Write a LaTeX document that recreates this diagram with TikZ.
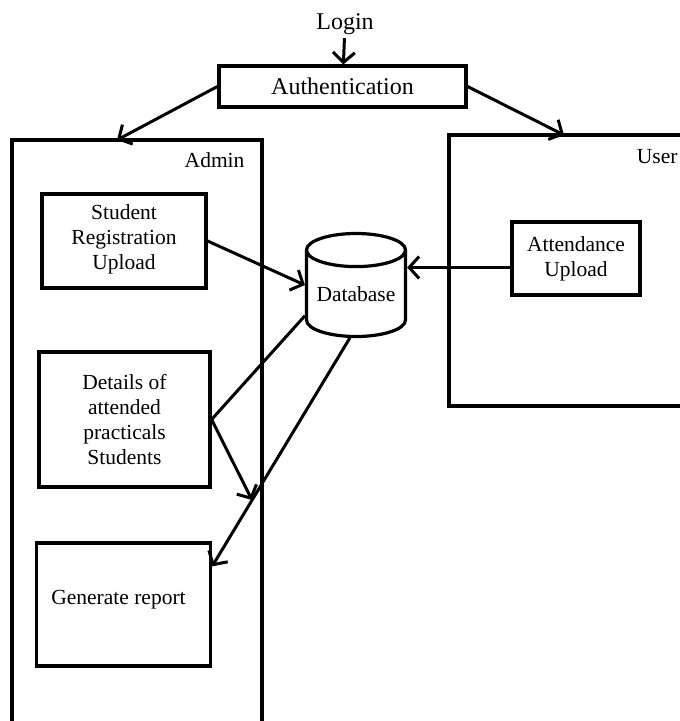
\documentclass[tikz,border=0pt]{standalone}
\usepackage{fontspec}
\setmainfont{Liberation Serif}
\usetikzlibrary{arrows.meta,shapes.geometric}
\tikzset{
    every node/.style={align=center,},
    txt/.style={font=\fontsize{21.5}{25}\selectfont,},
    bigtxt/.style={font=\fontsize{24}{28}\selectfont,},
    box/.style={draw,rectangle,line width=3.2pt,inner sep=0pt,},
    flow/.style={line width=3pt,-{Straight Barb[length=10pt,width=22pt]},},
}

\begin{document}
\begin{tikzpicture}[x=1pt,y=-1pt]
                \clip (0,0) rectangle (680,721);

                \node[bigtxt] (login) at (345, 24) {Login};
                \node[box,bigtxt,minimum width=247,minimum height=41] (auth) at (342.5, 86.5) {Authentication};

                % the two sides
                \node[box,minimum width=250,minimum height=620] (admin) at (137, 450) {};
                \node[txt,anchor=east] (adminlbl) at (248, 160) {Admin};
                \node[box,minimum width=261,minimum height=271] (user) at (579.5, 270.5) {};
                \node[txt,anchor=east] (userlbl) at (681, 157) {User};

                \node[box,txt,minimum width=164,minimum height=94,text depth=8pt] (sreg) at (124, 241) {Student\\Registration\\Upload};
                \node[box,txt,minimum width=171,minimum height=135] (details) at (124.5, 419.5) {Details of\\attended\\practicals\\Students};
                \node[box,txt,minimum width=174,minimum height=123,text depth=14pt] (report) at (123.5, 604.5) {Generate report\hspace*{10pt}};
                \node[box,txt,minimum width=128,minimum height=73] (attend) at (576, 258.5) {Attendance\\Upload};

                \node[draw,txt,cylinder,shape border rotate=90,aspect=0.42,line width=3.2pt,anchor=shape center,
                      minimum width=99,minimum height=103,inner sep=0pt] (db) at (356, 285) {Database};

                \coordinate (admintop) at (117, 140);
                \coordinate (usertop) at (564, 135);
                \coordinate (meet) at (252, 500);

                \draw[flow] (login) -- (auth);
                \draw[flow] (auth.west) -- (admintop);
                \draw[flow] (auth.east) -- (usertop);
                \draw[flow] (sreg.east) -- ([yshift=9pt]db.west);
                \draw[flow] ([yshift=-9pt]attend.west) -- ([yshift=-9pt]attend.west -| db.east);
                \draw[flow] (db.203) -- (details.east) -- (meet);
                \draw[flow] (db.262) -- ([yshift=-25pt]report.north east);
            \end{tikzpicture}
\end{document}
